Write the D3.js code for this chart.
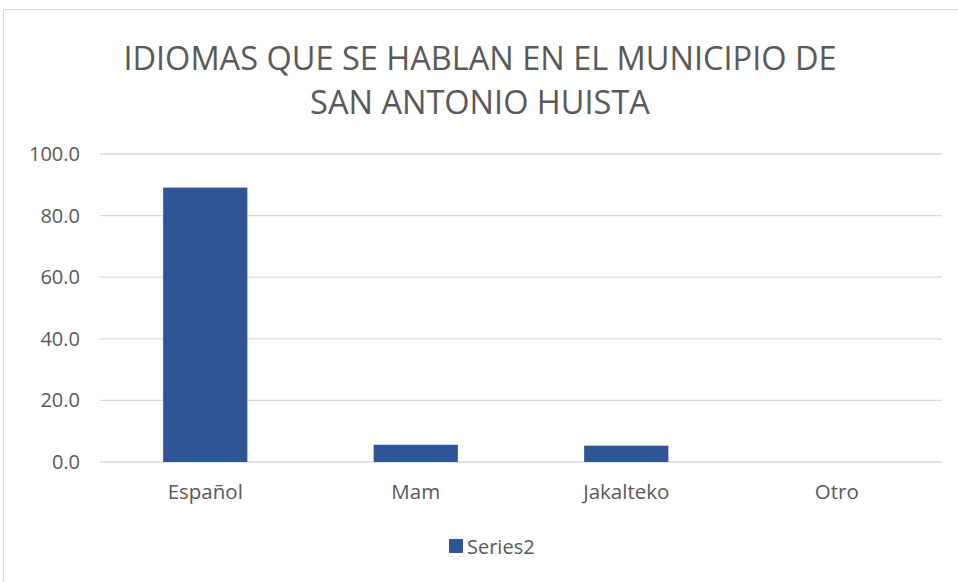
<!DOCTYPE html>
<html>
<head>
<meta charset="utf-8">
<script src="https://cdn.jsdelivr.net/npm/d3@7"></script>
<style>
  body { margin: 0; background: #fff; overflow: hidden; }
  text { font-family: "Open Sans", "Liberation Sans", sans-serif; fill: #595959; }
</style>
</head>
<body>
<div id="chart"></div>
<script>
// Chart data
const categories = ['Español', 'Mam', 'Jakalteko', 'Otro'];
const values = [89.1, 5.6, 5.3, 0];
const yTicks = [0, 20, 40, 60, 80, 100];
const titleLines = ['IDIOMAS QUE SE HABLAN EN EL MUNICIPIO DE', 'SAN ANTONIO HUISTA'];
const seriesName = 'Series2';

const width = 958;
const height = 582;
const margins = { top: 154, right: 16, bottom: 120, left: 100 };
const innerWidth = width - margins.left - margins.right;
const innerHeight = height - margins.top - margins.bottom;
const barColor = '#2f5597';

const svg = d3.select('#chart')
    .append('svg')
    .attr('width', width)
    .attr('height', height)
    .style('display', 'block');

// Chart area border (its right and bottom edges run off the picture)
svg.append('path')
    .attr('d', `M${width},9.5H3.5V${height}`)
    .attr('fill', 'none')
    .attr('stroke', '#d9d9d9');

// Title
svg.append('text')
    .attr('x', 480)
    .attr('y', 70)
    .attr('text-anchor', 'middle')
    .style('font-size', '32.5px')
    .selectAll('tspan')
    .data(titleLines)
    .enter()
    .append('tspan')
    .attr('x', 480)
    .attr('dy', (d, i) => i === 0 ? 0 : 44)
    .text(d => d);

const g = svg.append('g')
    .attr('transform', `translate(${margins.left},${margins.top})`);

const xScale = d3.scaleBand()
    .domain(categories)
    .range([0, innerWidth])
    .paddingInner(0.6)
    .paddingOuter(0.3);

const yScale = d3.scaleLinear()
    .domain([0, 100])
    .range([innerHeight, 0]);

// Gridlines
g.selectAll('.grid')
    .data(yTicks)
    .enter()
    .append('line')
    .attr('class', 'grid')
    .attr('x1', 0)
    .attr('x2', innerWidth)
    .attr('y1', d => yScale(d))
    .attr('y2', d => yScale(d))
    .attr('stroke', '#d9d9d9')
    .attr('stroke-width', 1.3);

// Y axis
const yAxis = g.append('g')
    .call(d3.axisLeft(yScale).tickValues(yTicks).tickFormat(d3.format('.1f')).tickSize(0).tickPadding(20));
yAxis.select('.domain').remove();
yAxis.selectAll('text').style('font-size', '20px').attr('fill', '#595959');

// Bars
g.selectAll('.bar')
    .data(categories.map((c, i) => ({ c, v: values[i] })))
    .enter()
    .append('rect')
    .attr('class', 'bar')
    .attr('x', d => xScale(d.c))
    .attr('y', d => yScale(d.v))
    .attr('width', xScale.bandwidth())
    .attr('height', d => innerHeight - yScale(d.v))
    .attr('fill', barColor);

// X axis
const xAxis = g.append('g')
    .attr('transform', `translate(0,${innerHeight})`)
    .call(d3.axisBottom(xScale).tickSize(0).tickPadding(22));
xAxis.select('.domain').remove();
xAxis.selectAll('text').style('font-size', '20.5px').attr('fill', '#595959');

// Legend
const legend = svg.append('g')
    .attr('transform', 'translate(449,539)');
legend.append('rect')
    .attr('width', 14)
    .attr('height', 14)
    .attr('fill', barColor);
legend.append('text')
    .attr('x', 18)
    .attr('y', 15)
    .style('font-size', '20px')
    .text(seriesName);
</script>
</body>
</html>
